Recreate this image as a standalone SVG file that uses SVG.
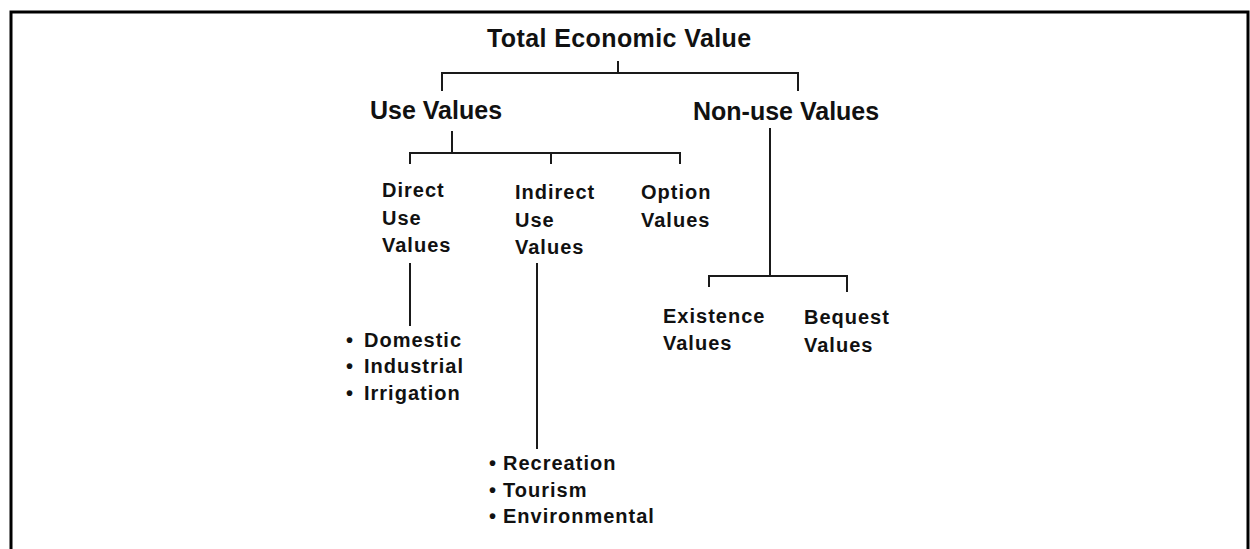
<svg xmlns="http://www.w3.org/2000/svg" width="1250" height="549" viewBox="0 0 1250 549">
<style>
.t{font-family:"Liberation Sans",Arial,sans-serif;font-weight:bold;fill:#111}
.big{font-size:25px}
.sm{font-size:20px;letter-spacing:1px}
.c{fill:none;stroke:#1a1a1a;stroke-width:2}
</style>
<rect width="1250" height="549" fill="#fff"/>
<path d="M11,552 V12 H1248 V552" fill="none" stroke="#000" stroke-width="3"/>
<g id="connectors" class="c">
<path d="M618,61 V73 M442,91 V73 H798 V91"/>
<path d="M452,131 V153 M410,164 V153 H680 V164 M551,153 V164"/>
<path d="M770,128 V276 M709,287 V276 H847 V292"/>
<path d="M410,263 V326"/>
<path d="M537,263 V449"/>
</g>
<g id="total"><text class="t big" x="487" y="47" letter-spacing="0.4">Total Economic Value</text></g>
<g id="use"><text class="t big" x="370" y="119">Use Values</text></g>
<g id="nonuse"><text class="t big" x="693" y="120">Non-use Values</text></g>
<g id="direct" class="t sm">
<text x="382" y="197">Direct</text>
<text x="382" y="225">Use</text>
<text x="382" y="252">Values</text>
</g>
<g id="indirect" class="t sm">
<text x="515" y="199">Indirect</text>
<text x="515" y="227">Use</text>
<text x="515" y="254">Values</text>
</g>
<g id="option" class="t sm">
<text x="641" y="199">Option</text>
<text x="641" y="227">Values</text>
</g>
<g id="direct-list" class="t sm">
<text y="347"><tspan x="346">•</tspan><tspan x="364">Domestic</tspan></text>
<text y="373"><tspan x="346">•</tspan><tspan x="364">Industrial</tspan></text>
<text y="400"><tspan x="346">•</tspan><tspan x="364">Irrigation</tspan></text>
</g>
<g id="indirect-list" class="t sm">
<text y="470"><tspan x="489">•</tspan><tspan x="503">Recreation</tspan></text>
<text y="497"><tspan x="489">•</tspan><tspan x="503">Tourism</tspan></text>
<text y="523"><tspan x="489">•</tspan><tspan x="503">Environmental</tspan></text>
</g>
<g id="existence" class="t sm">
<text x="663" y="323">Existence</text>
<text x="663" y="350">Values</text>
</g>
<g id="bequest" class="t sm">
<text x="804" y="324">Bequest</text>
<text x="804" y="352">Values</text>
</g>
</svg>
